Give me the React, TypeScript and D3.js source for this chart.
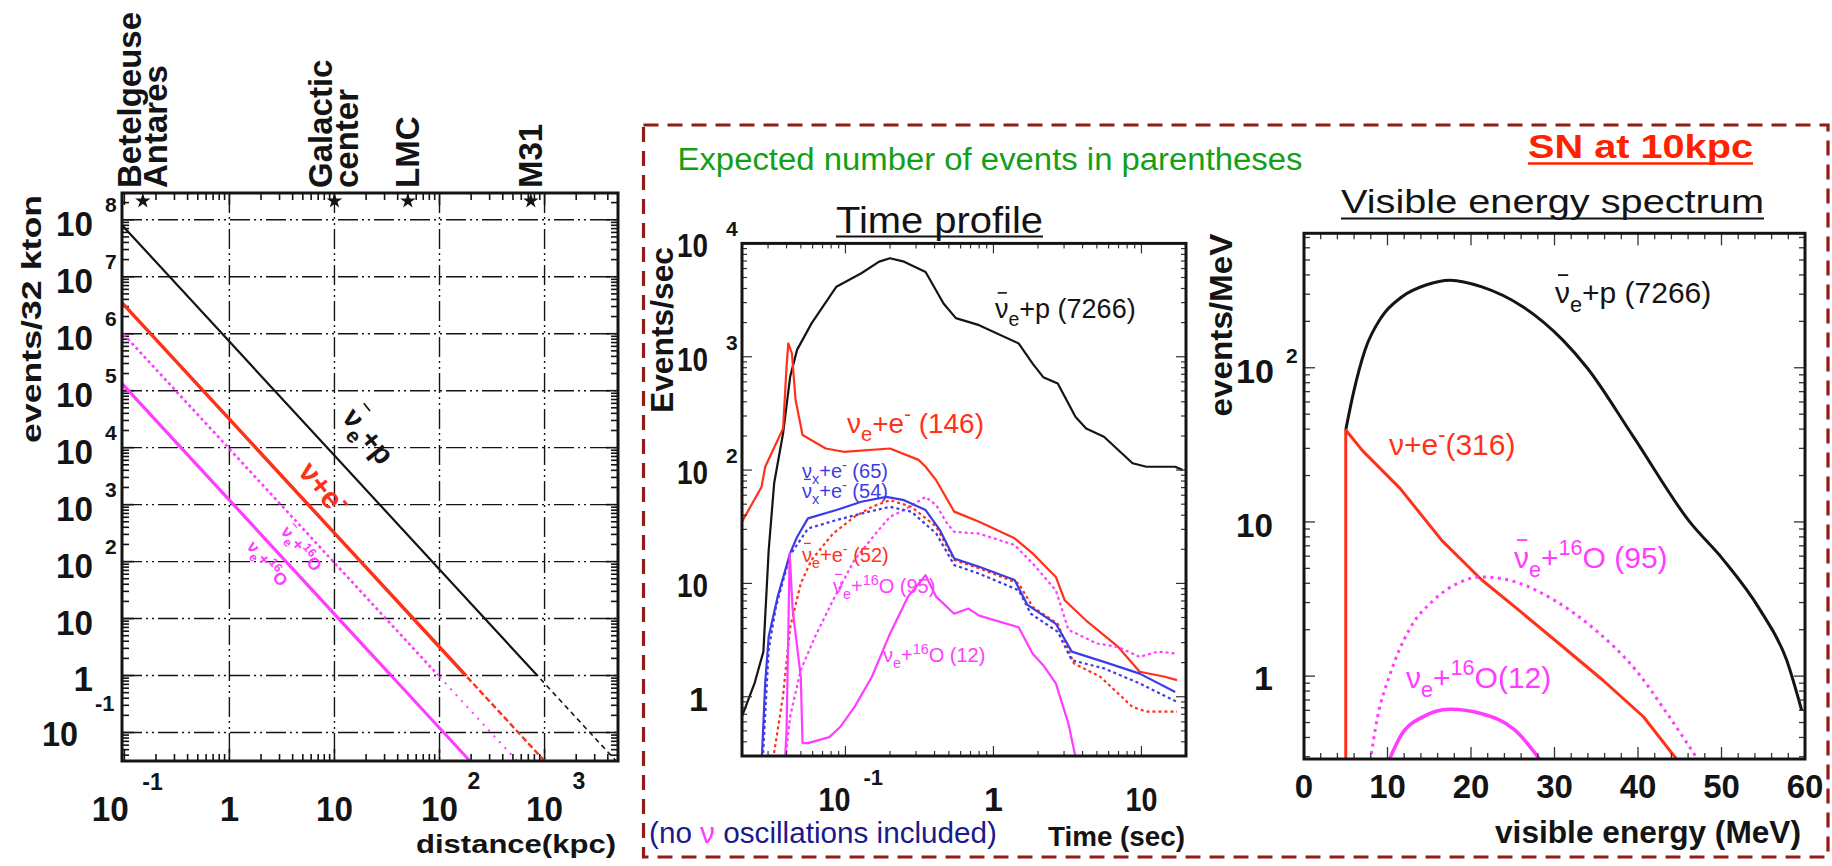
import React from "react";
import * as d3 from "d3";

const FONT = "'Liberation Sans', Arial, Helvetica, sans-serif";
const RED = "#ff3219";
const MAGENTA = "#ff3cff";
const BLUE = "#3c3ce6";
const BLACK = "#141414";
const NAVY = "#1a1a8c";
const GREEN = "#13a018";
const BOX = "#8f1d16";

// ---------- events vs distance ----------
const distanceKpc = [0.09, 1, 10, 100, 1000, 6000];
const ibdVsDistance = [9.0e7, 7.27e5, 7266, 72.7, 0.727, 0.0202];
const esVsDistance = [3.9e6, 3.16e4, 316, 3.16, 0.0316, 0.00088];
const o16barVsDistance = [1.17e6, 9500, 95, 0.95, 0.0095, 0.00026];
const o16VsDistance = [1.48e5, 1200, 12, 0.12, 0.0012, 0.000033];
const landmarkKpc = [0.15, 10, 50, 740];
const landmarkNames = [["Betelgeuse", "Antares"], ["Galactic", "center"], ["LMC"], ["M31"]];
const distanceDecadeExps = [-1, 0, 1, 2, 3];
const eventDecadeExps = [-1, 0, 1, 2, 3, 4, 5, 6, 7, 8];

// ---------- time profile (events/sec vs time in sec) ----------
const ibdTime = [0.02, 0.0243, 0.0279, 0.0287, 0.0303, 0.033, 0.0379, 0.0423, 0.0471, 0.059, 0.0869, 0.128, 0.169, 0.2, 0.249, 0.348, 0.46, 0.557, 0.8, 1.48, 1.84, 2.17, 2.72, 3.58, 4.23, 5.58, 8.71, 10.8, 16.9, 19.0];
const ibdRate = [0.67, 1.31, 2.5, 5.1, 19.7, 77, 211, 665, 1150, 1970, 4150, 5450, 6900, 7400, 6900, 5600, 2950, 2190, 1900, 1310, 870, 660, 580, 295, 233, 197, 115, 107, 107, 100];
const nueElTime = [0.02, 0.0271, 0.0287, 0.0379, 0.04, 0.0411, 0.0435, 0.046, 0.0513, 0.0736, 0.0973, 0.2, 0.312, 0.348, 0.411, 0.543, 0.8, 1.39, 1.84, 2.64, 3.03, 4.23, 6.97, 9.73, 14.4, 17.4];
const nueElRate = [35, 71, 107, 233, 813, 1310, 1070, 417, 204, 155, 145, 155, 123, 107, 81, 43, 35, 25, 18.4, 11.4, 7.1, 4.7, 2.75, 1.66, 1.5, 1.4];
const nuxElTime = [0.0271, 0.0287, 0.0303, 0.0348, 0.0423, 0.0471, 0.0558, 0.0869, 0.128, 0.189, 0.249, 0.348, 0.435, 0.543, 0.8, 1.39, 1.69, 2.64, 3.38, 5.58, 9.73, 16.9];
const nuxElRate = [0.25, 1.32, 3.4, 7.6, 18.5, 25.7, 37.5, 44.4, 52.5, 58, 54.3, 44.4, 29.5, 16.6, 14.0, 10.7, 6.5, 4.4, 2.5, 2.03, 1.6, 1.1];
const nuxbarElTime = [0.0275, 0.0303, 0.0339, 0.0423, 0.0558, 0.0869, 0.144, 0.2, 0.279, 0.411, 0.543, 0.8, 1.48, 1.79, 2.72, 3.38, 5.58, 9.73, 17.4];
const nuxbarElRate = [0.25, 2.6, 6.2, 17.8, 30.5, 36.2, 42.9, 47.4, 42.9, 27.5, 14.5, 12.2, 8.7, 5.4, 3.74, 2.1, 1.78, 1.31, 0.9];
const nuebarElTime = [0.032, 0.0378, 0.0423, 0.0499, 0.059, 0.0824, 0.115, 0.151, 0.2, 0.279, 0.411, 0.543, 0.8, 1.48, 1.84, 2.72, 3.49, 5.28, 8.71, 10.8, 17.4];
const nuebarElRate = [0.25, 1.0, 4.1, 10, 16.1, 27.5, 38.7, 47.4, 54.3, 47.4, 31.6, 16.1, 13.6, 10, 6.2, 4.4, 1.97, 1.5, 0.81, 0.74, 0.74];
const nuebarOTime = [0.0389, 0.0423, 0.0499, 0.0624, 0.0824, 0.115, 0.16, 0.2, 0.249, 0.348, 0.411, 0.485, 0.543, 0.8, 1.39, 1.84, 2.64, 3.21, 4.99, 6.97, 9.73, 12.9, 17.4];
const nuebarORate = [0.25, 0.67, 1.72, 3.4, 7.1, 16.1, 27.5, 38.7, 44.4, 58, 49, 33.9, 28.5, 27.5, 21.8, 15, 8.7, 3.9, 2.95, 2.75, 2.25, 2.5, 2.4];
const nueOTime = [0.0389, 0.04, 0.042, 0.044, 0.0499, 0.0513, 0.0558, 0.0778, 0.092, 0.115, 0.151, 0.2, 0.264, 0.348, 0.411, 0.543, 0.678, 0.8, 1.48, 1.84, 2.17, 2.64, 3.21, 3.68];
const nueORate = [0.25, 0.5, 18.4, 5.8, 1.5, 0.39, 0.39, 0.44, 0.54, 0.81, 1.5, 3.6, 7.6, 11.8, 7.6, 5.4, 6.0, 5.2, 4.1, 2.4, 1.9, 1.31, 0.58, 0.25];
const timeDecadeExps = [-1, 0, 1];
const rateDecadeExps = [0, 1, 2, 3, 4];

// ---------- visible energy spectrum (events/MeV vs MeV) ----------
const ibdEnergy = [5.0, 5.9, 7.3, 9.3, 11.7, 14.6, 17.5, 21.3, 26.2, 31.0, 33.9, 39.4, 46.2, 50.2, 54.6, 57.8, 59.6];
const ibdSpectrum = [39.5, 68, 130, 214, 288, 344, 370, 335, 249, 151, 100, 36, 10, 5.7, 2.7, 1.27, 0.6];
const esEnergy = [5.0, 5.0, 7.0, 11.5, 16.5, 21.3, 26.2, 31.0, 35.8, 40.65, 44.6];
const esSpectrum = [0.25, 39.5, 29, 16.5, 7.6, 4.2, 2.55, 1.55, 0.94, 0.545, 0.29];
const o16barEnergy = [7.8, 8.8, 10.2, 12.6, 15.5, 18.4, 21.3, 25.2, 30.0, 34.85, 39.7, 43.5, 47.9];
const o16barSpectrum = [0.25, 0.54, 0.99, 2.0, 3.1, 4.0, 4.4, 4.1, 3.1, 2.0, 1.1, 0.57, 0.25];
const o16Energy = [9.75, 11.7, 14.1, 17.5, 21.3, 25.2, 29.05];
const o16Spectrum = [0.25, 0.42, 0.54, 0.61, 0.57, 0.45, 0.25];
const energyTicks = [0, 10, 20, 30, 40, 50, 60];
const spectrumDecadeExps = [0, 1, 2];

// ---------- geometry ----------
const DP = { x0: 122, x1: 618, y0: 193, y1: 761 };
const xD = d3.scaleLog().domain([0.095, 5000]).range([DP.x0, DP.x1]);
const yD = d3.scaleLog().domain([0.0316, 2.95e8]).range([DP.y1, DP.y0]);

const TP = { x0: 742, x1: 1186, y0: 243.4, y1: 756 };
const xT = d3.scaleLog().domain([0.02, 20]).range([TP.x0, TP.x1]);
const yT = d3.scaleLog().domain([0.3, 1e4]).range([TP.y1, TP.y0]);

const EP = { x0: 1304, x1: 1805, y0: 233.3, y1: 759 };
const xE = d3.scaleLinear().domain([0, 60]).range([EP.x0, EP.x1]);
const yE = d3.scaleLog().domain([0.29, 745]).range([EP.y1, EP.y0]);

function logSteps(lo: number, hi: number) {
  const out: { v: number; major: boolean }[] = [];
  for (let e = Math.floor(Math.log10(lo)); e <= Math.ceil(Math.log10(hi)); e++) {
    for (let k = 1; k <= 9; k++) {
      const v = k * Math.pow(10, e);
      if (v >= lo * 0.999 && v <= hi * 1.001) out.push({ v, major: k === 1 });
    }
  }
  return out;
}

type Part = [string, "n" | "b" | "p"];

function Rich(props: {
  x?: number; y?: number; size: number; fill: string; parts: Part[];
  bar?: boolean; weight?: string; transform?: string;
}) {
  const { x = 0, y = 0, size, fill, parts, bar = false, weight = "normal", transform } = props;
  let shift = 0;
  const spans = parts.map(([t, k], i) => {
    const target = k === "b" ? size * 0.3 : k === "p" ? -size * 0.42 : 0;
    const dy = target - shift;
    shift = target;
    return (
      <tspan key={i} dy={dy} fontSize={k === "n" ? size : size * 0.72}>
        {t}
      </tspan>
    );
  });
  return (
    <g transform={transform}>
      <text x={x} y={y} fill={fill} fontSize={size} fontWeight={weight} fontFamily={FONT} style={{ whiteSpace: "pre" }}>
        {spans}
      </text>
      {bar && (
        <line x1={x + size * 0.1} x2={x + size * 0.44} y1={y - size * 0.93} y2={y - size * 0.93}
          stroke={fill} strokeWidth={Math.max(1.3, size * 0.06)} />
      )}
    </g>
  );
}

function Txt(props: {
  x: number; y: number; size: number; children: React.ReactNode; anchor?: string;
  weight?: string; fill?: string; len?: number; transform?: string;
}) {
  const { x, y, size, children, anchor = "start", weight = "bold", fill = BLACK, len, transform } = props;
  return (
    <text x={x} y={y} fontSize={size} fontFamily={FONT} fontWeight={weight} fill={fill} textAnchor={anchor}
      textLength={len} lengthAdjust={len ? "spacingAndGlyphs" : undefined} transform={transform}
      style={{ whiteSpace: "pre" }}>
      {children}
    </text>
  );
}

function LogFrameTicks(props: {
  xs?: any; ys?: any; p: { x0: number; x1: number; y0: number; y1: number };
  xlo?: number; xhi?: number; ylo?: number; yhi?: number; major: number; minor: number; color: string; w: number;
}) {
  const { xs, ys, p, xlo, xhi, ylo, yhi, major, minor, color, w } = props;
  const out: React.ReactNode[] = [];
  if (ys && ylo !== undefined && yhi !== undefined) {
    logSteps(ylo, yhi).forEach(({ v, major: M }, i) => {
      const y = ys(v);
      const l = M ? major : minor;
      out.push(<line key={"yl" + i} x1={p.x0} x2={p.x0 + l} y1={y} y2={y} stroke={color} strokeWidth={w} />);
      out.push(<line key={"yr" + i} x1={p.x1} x2={p.x1 - l} y1={y} y2={y} stroke={color} strokeWidth={w} />);
    });
  }
  if (xs && xlo !== undefined && xhi !== undefined) {
    logSteps(xlo, xhi).forEach(({ v, major: M }, i) => {
      const x = xs(v);
      const l = M ? major : minor;
      out.push(<line key={"xb" + i} x1={x} x2={x} y1={p.y1} y2={p.y1 - l} stroke={color} strokeWidth={w} />);
      out.push(<line key={"xt" + i} x1={x} x2={x} y1={p.y0} y2={p.y0 + l} stroke={color} strokeWidth={w} />);
    });
  }
  return <g>{out}</g>;
}

export default function App() {
  const distLine = (vals: number[]) =>
    d3.line<number>().x((_, i) => xD(distanceKpc[i])).y((v) => yD(v))(vals) ?? "";
  const timeLine = (t: number[], r: number[]) =>
    d3.line<number>().x((_, i) => xT(t[i])).y((v) => yT(v))(r) ?? "";
  const energyLine = (e: number[], n: number[], curve: d3.CurveFactory) =>
    d3.line<number>().curve(curve).x((_, i) => xE(e[i])).y((v) => yE(v))(n) ?? "";

  const yOne = yD(1);
  const distSeries = [
    { vals: ibdVsDistance, color: BLACK, w: 2.2, dash: undefined as string | undefined, wLow: 1.6, dashLow: "5 4" as string | undefined },
    { vals: esVsDistance, color: RED, w: 3.5, dash: undefined, wLow: 2.4, dashLow: "6 3" },
    { vals: o16barVsDistance, color: MAGENTA, w: 2.6, dash: "3 3", wLow: 2, dashLow: "2 6" },
    { vals: o16VsDistance, color: MAGENTA, w: 3.2, dash: undefined, wLow: 3, dashLow: undefined },
  ];

  const timeSeries = [
    { t: ibdTime, r: ibdRate, color: BLACK, dash: undefined as string | undefined },
    { t: nueElTime, r: nueElRate, color: RED, dash: undefined },
    { t: nuebarOTime, r: nuebarORate, color: MAGENTA, dash: "3 3" },
    { t: nuebarElTime, r: nuebarElRate, color: RED, dash: "3 3" },
    { t: nuxbarElTime, r: nuxbarElRate, color: BLUE, dash: "3 3" },
    { t: nuxElTime, r: nuxElRate, color: BLUE, dash: undefined },
    { t: nueOTime, r: nueORate, color: MAGENTA, dash: undefined },
  ];

  const gridDash = "20 4 2 4 2 4";

  return (
    <svg width={1832} height={866} style={{ position: "absolute", left: 0, top: 0, background: "#fff" }}
      xmlns="http://www.w3.org/2000/svg">
      <defs>
        <clipPath id="clipD"><rect x={DP.x0} y={DP.y0} width={DP.x1 - DP.x0} height={DP.y1 - DP.y0} /></clipPath>
        <clipPath id="clipDHi"><rect x={DP.x0} y={DP.y0} width={DP.x1 - DP.x0} height={yOne - DP.y0} /></clipPath>
        <clipPath id="clipDLo"><rect x={DP.x0} y={yOne} width={DP.x1 - DP.x0} height={DP.y1 - yOne} /></clipPath>
        <clipPath id="clipT"><rect x={TP.x0} y={TP.y0} width={TP.x1 - TP.x0} height={TP.y1 - TP.y0} /></clipPath>
        <clipPath id="clipE"><rect x={EP.x0} y={EP.y0} width={EP.x1 - EP.x0} height={EP.y1 - EP.y0} /></clipPath>
      </defs>
      <rect x={0} y={0} width={1832} height={866} fill="#fff" />

      {/* ================= events vs distance ================= */}
      <g>
        {eventDecadeExps.map((e) => (
          <line key={"gh" + e} x1={DP.x0} x2={DP.x1} y1={yD(Math.pow(10, e))} y2={yD(Math.pow(10, e))}
            stroke={BLACK} strokeWidth={1.4} strokeDasharray={gridDash} />
        ))}
        {distanceDecadeExps.filter((e) => e >= 0).map((e) => (
          <line key={"gv" + e} x1={xD(Math.pow(10, e))} x2={xD(Math.pow(10, e))} y1={DP.y0} y2={DP.y1}
            stroke={BLACK} strokeWidth={1.4} strokeDasharray={gridDash} />
        ))}
        <LogFrameTicks xs={xD} ys={yD} p={DP} xlo={0.095} xhi={5000} ylo={0.0316} yhi={2.95e8}
          major={12} minor={7} color={BLACK} w={1.6} />

        {distSeries.map((s, i) => (
          <g key={"ds" + i}>
            <path d={distLine(s.vals)} fill="none" stroke={s.color} strokeWidth={s.w}
              strokeDasharray={s.dash} clipPath="url(#clipDHi)" />
            <path d={distLine(s.vals)} fill="none" stroke={s.color} strokeWidth={s.wLow}
              strokeDasharray={s.dashLow} clipPath="url(#clipDLo)" />
          </g>
        ))}

        <rect x={DP.x0} y={DP.y0} width={DP.x1 - DP.x0} height={DP.y1 - DP.y0} fill="none" stroke={BLACK} strokeWidth={3} />

        {/* landmarks along the top */}
        {landmarkKpc.map((d, i) => {
          const cx = xD(d);
          const names = landmarkNames[i];
          const baselines = names.length === 2 ? [cx - 2, cx + 24] : [cx + 11];
          return (
            <g key={"lm" + i}>
              <path d={d3.symbol().type(d3.symbolStar).size(75)() ?? ""} transform={`translate(${cx},${DP.y0 + 8})`} fill={BLACK} />
              {names.map((n, j) => (
                <Txt key={j} x={0} y={0} size={33} transform={`translate(${baselines[j]},188) rotate(-90)`}>{n}</Txt>
              ))}
            </g>
          );
        })}

        {/* y tick labels */}
        {eventDecadeExps.map((e) => {
          const y = yD(Math.pow(10, e));
          if (e === 0) return <Txt key={"yl" + e} x={93} y={y + 15} size={35} anchor="end">1</Txt>;
          if (e === 1) return <Txt key={"yl" + e} x={93} y={y + 16} size={35} anchor="end" len={37}>10</Txt>;
          if (e === -1)
            return (
              <g key={"yl" + e}>
                <Txt x={78} y={y + 14} size={35} anchor="end" len={36}>10</Txt>
                <Txt x={95} y={y - 21} size={22}>-1</Txt>
              </g>
            );
          return (
            <g key={"yl" + e}>
              <Txt x={93} y={y + 16} size={35} anchor="end" len={37}>10</Txt>
              <Txt x={105} y={y - 8} size={21}>{String(e)}</Txt>
            </g>
          );
        })}

        {/* x tick labels */}
        {distanceDecadeExps.map((e) => {
          const x = xD(Math.pow(10, e));
          if (e === 0) return <Txt key={"xl" + e} x={x} y={821} size={35} anchor="middle">1</Txt>;
          if (e === 1) return <Txt key={"xl" + e} x={x} y={821} size={35} anchor="middle" len={37}>10</Txt>;
          if (e === -1)
            return (
              <g key={"xl" + e}>
                <Txt x={x - 14} y={821} size={35} anchor="middle" len={37}>10</Txt>
                <Txt x={x + 18} y={790} size={23}>-1</Txt>
              </g>
            );
          return (
            <g key={"xl" + e}>
              <Txt x={x} y={821} size={35} anchor="middle" len={37}>10</Txt>
              <Txt x={x + 28} y={789} size={23}>{String(e)}</Txt>
            </g>
          );
        })}
        <Txt x={616} y={853} size={26} anchor="end" len={200}>distance(kpc)</Txt>
        <Txt x={0} y={0} size={28} anchor="middle" len={248} transform="translate(41,319) rotate(-90)">events/32 kton</Txt>

        {/* channel labels along the lines */}
        <Rich transform="translate(341,418) rotate(51)" size={29} weight="bold" fill={BLACK} bar
          parts={[["ν", "n"], ["e", "b"], ["+p", "n"]]} />
        <Rich transform="translate(297,472) rotate(51)" size={30} weight="bold" fill={RED}
          parts={[["ν+e", "n"], ["-", "p"]]} />
        <Rich transform="translate(280,532) rotate(50)" size={17} weight="bold" fill={MAGENTA} bar
          parts={[["ν", "n"], ["e", "b"], ["+", "n"], ["16", "p"], ["O", "n"]]} />
        <Rich transform="translate(246,547) rotate(50)" size={17} weight="bold" fill={MAGENTA}
          parts={[["ν", "n"], ["e", "b"], ["+", "n"], ["16", "p"], ["O", "n"]]} />
      </g>

      {/* ================= dashed box with the 10 kpc panels ================= */}
      <rect x={643.5} y={125} width={1184.5} height={732} fill="none" stroke={BOX} strokeWidth={3.2} strokeDasharray="15 9" />
      <Txt x={677.5} y={170} size={31} weight="normal" fill={GREEN} len={625}>Expected number of events in parentheses</Txt>
      <Txt x={1528} y={158} size={34} fill="#ff2200" len={225}>SN at 10kpc</Txt>
      <line x1={1528} x2={1753} y1={163.5} y2={163.5} stroke="#ff2200" strokeWidth={2.5} />

      {/* ================= time profile ================= */}
      <g>
        <Txt x={836} y={232.5} size={37} weight="normal" len={207}>Time profile</Txt>
        <line x1={836} x2={1043} y1={236.5} y2={236.5} stroke={BLACK} strokeWidth={2} />

        <g clipPath="url(#clipT)">
          {timeSeries.map((s, i) => (
            <path key={"ts" + i} d={timeLine(s.t, s.r)} fill="none" stroke={s.color} strokeWidth={2.2}
              strokeDasharray={s.dash} strokeLinejoin="round" />
          ))}
        </g>
        <LogFrameTicks xs={xT} ys={yT} p={TP} xlo={0.02} xhi={20} ylo={0.3} yhi={1e4}
          major={10} minor={5} color="#333" w={1.2} />
        <rect x={TP.x0} y={TP.y0} width={TP.x1 - TP.x0} height={TP.y1 - TP.y0} fill="none" stroke={BLACK} strokeWidth={3} />

        {rateDecadeExps.map((e) => {
          const y = yT(Math.pow(10, e));
          if (e === 0) return <Txt key={"ty" + e} x={708} y={y + 14} size={34} anchor="end">1</Txt>;
          if (e === 1) return <Txt key={"ty" + e} x={708} y={y + 14} size={34} anchor="end" len={31}>10</Txt>;
          return (
            <g key={"ty" + e}>
              <Txt x={708} y={y + 14} size={34} anchor="end" len={31}>10</Txt>
              <Txt x={726} y={y - 7} size={21}>{String(e)}</Txt>
            </g>
          );
        })}
        {timeDecadeExps.map((e) => {
          const x = xT(Math.pow(10, e));
          if (e === 0) return <Txt key={"tx" + e} x={x} y={811} size={34} anchor="middle">1</Txt>;
          if (e === 1) return <Txt key={"tx" + e} x={x} y={811} size={34} anchor="middle" len={32}>10</Txt>;
          return (
            <g key={"tx" + e}>
              <Txt x={x - 11} y={811} size={34} anchor="middle" len={32}>10</Txt>
              <Txt x={x + 18} y={785} size={22}>-1</Txt>
            </g>
          );
        })}
        <Txt x={1185} y={846} size={28} anchor="end" len={137}>Time (sec)</Txt>
        <Txt x={0} y={0} size={31} anchor="middle" len={166} transform="translate(673,330) rotate(-90)">Events/sec</Txt>
        <text x={649} y={843} fontSize={29} fontFamily={FONT} fill={NAVY} textLength={348}
          lengthAdjust="spacingAndGlyphs" style={{ whiteSpace: "pre" }}>
          <tspan>(no </tspan>
          <tspan fill={MAGENTA}>ν</tspan>
          <tspan> oscillations included)</tspan>
        </text>

        <Rich x={995} y={318} size={27} fill={BLACK} bar parts={[["ν", "n"], ["e", "b"], ["+p (7266)", "n"]]} />
        <Rich x={847} y={433} size={28} fill={RED} parts={[["ν", "n"], ["e", "b"], ["+e", "n"], ["-", "p"], [" (146)", "n"]]} />
        <Rich x={802} y={478} size={20} fill={BLUE} parts={[["ν", "n"], ["x", "b"], ["+e", "n"], ["-", "p"], [" (65)", "n"]]} />
        <Rich x={802} y={498} size={20} fill={BLUE} bar parts={[["ν", "n"], ["x", "b"], ["+e", "n"], ["-", "p"], [" (54)", "n"]]} />
        <Rich x={802} y={562} size={20} fill={RED} bar parts={[["ν", "n"], ["e", "b"], ["+e", "n"], ["-", "p"], [" (52)", "n"]]} />
        <Rich x={833} y={593} size={20} fill={MAGENTA} bar parts={[["ν", "n"], ["e", "b"], ["+", "n"], ["16", "p"], ["O (95)", "n"]]} />
        <Rich x={883} y={662} size={20} fill={MAGENTA} parts={[["ν", "n"], ["e", "b"], ["+", "n"], ["16", "p"], ["O (12)", "n"]]} />
      </g>

      {/* ================= visible energy spectrum ================= */}
      <g>
        <Txt x={1341} y={213} size={34} weight="normal" len={423}>Visible energy spectrum</Txt>
        <line x1={1341} x2={1764} y1={218.5} y2={218.5} stroke={BLACK} strokeWidth={2} />

        <g clipPath="url(#clipE)">
          <path d={energyLine(ibdEnergy, ibdSpectrum, d3.curveMonotoneX)} fill="none" stroke={BLACK} strokeWidth={3} />
          <path d={energyLine(esEnergy, esSpectrum, d3.curveLinear)} fill="none" stroke={RED} strokeWidth={3} strokeLinejoin="round" />
          <path d={energyLine(o16barEnergy, o16barSpectrum, d3.curveMonotoneX)} fill="none" stroke={MAGENTA} strokeWidth={3} strokeDasharray="3 4.5" />
          <path d={energyLine(o16Energy, o16Spectrum, d3.curveMonotoneX)} fill="none" stroke={MAGENTA} strokeWidth={3.5} />
        </g>
        <LogFrameTicks ys={yE} p={EP} ylo={0.29} yhi={745} major={11} minor={6} color="#333" w={1.3} />
        {d3.range(0, 61, 2).map((v) => {
          const x = xE(v);
          const l = v % 10 === 0 ? 12 : 6;
          return (
            <g key={"ex" + v}>
              <line x1={x} x2={x} y1={EP.y1} y2={EP.y1 - l} stroke="#333" strokeWidth={1.3} />
              <line x1={x} x2={x} y1={EP.y0} y2={EP.y0 + l} stroke="#333" strokeWidth={1.3} />
            </g>
          );
        })}
        <rect x={EP.x0} y={EP.y0} width={EP.x1 - EP.x0} height={EP.y1 - EP.y0} fill="none" stroke={BLACK} strokeWidth={3} />

        {energyTicks.map((v) => (
          <Txt key={"et" + v} x={xE(v)} y={798} size={33} anchor="middle">{String(v)}</Txt>
        ))}
        {spectrumDecadeExps.map((e) => {
          const y = yE(Math.pow(10, e));
          if (e === 0) return <Txt key={"ey" + e} x={1273} y={y + 14} size={34} anchor="end">1</Txt>;
          if (e === 1) return <Txt key={"ey" + e} x={1273} y={y + 15} size={34} anchor="end" len={37}>10</Txt>;
          return (
            <g key={"ey" + e}>
              <Txt x={1274} y={y + 15} size={34} anchor="end" len={38}>10</Txt>
              <Txt x={1286} y={y - 5} size={21}>{String(e)}</Txt>
            </g>
          );
        })}
        <Txt x={1801} y={843} size={31} anchor="end" len={306}>visible energy (MeV)</Txt>
        <Txt x={0} y={0} size={31} anchor="middle" len={183} transform="translate(1232,325) rotate(-90)">events/MeV</Txt>

        <Rich x={1555} y={303} size={30} fill={BLACK} bar parts={[["ν", "n"], ["e", "b"], ["+p (7266)", "n"]]} />
        <Rich x={1389} y={455} size={30} fill={RED} parts={[["ν", "n"], ["+e", "n"], ["-", "p"], ["(316)", "n"]]} />
        <Rich x={1514} y={568} size={30} fill={MAGENTA} bar parts={[["ν", "n"], ["e", "b"], ["+", "n"], ["16", "p"], ["O (95)", "n"]]} />
        <Rich x={1406} y={688} size={30} fill={MAGENTA} parts={[["ν", "n"], ["e", "b"], ["+", "n"], ["16", "p"], ["O(12)", "n"]]} />
      </g>
    </svg>
  );
}
